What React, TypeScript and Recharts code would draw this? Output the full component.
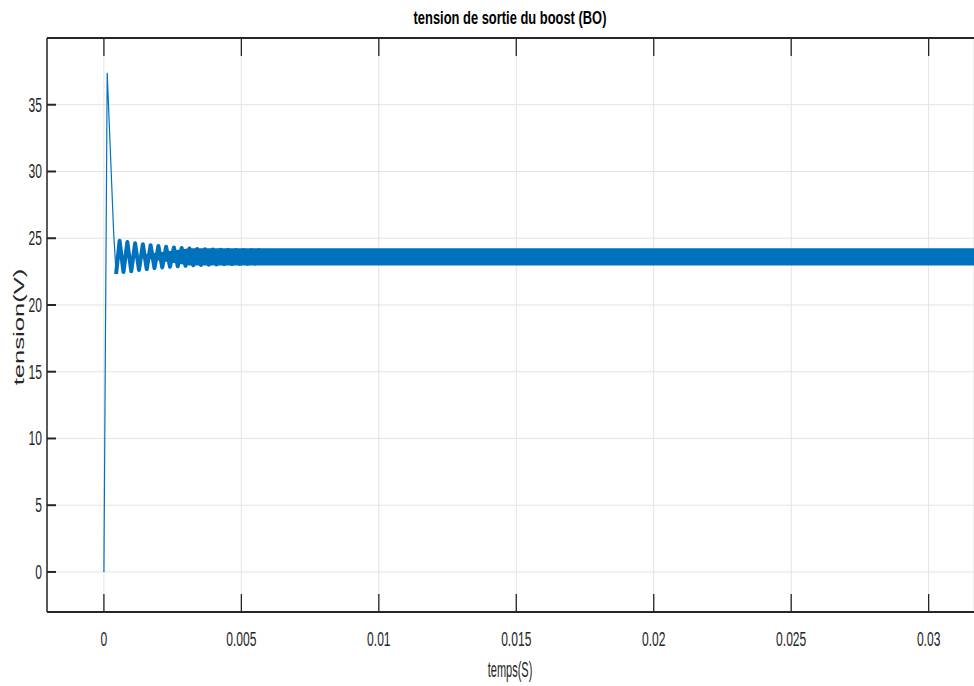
import { ComposedChart, XAxis, YAxis, CartesianGrid, Line, Area, Label, ReferenceLine } from "recharts";

// axes
const xTicks = [0, 0.005, 0.01, 0.015, 0.02, 0.025, 0.03];
const xTickLabels = ["0", "0.005", "0.01", "0.015", "0.02", "0.025", "0.03"];
const yTicks = [0, 5, 10, 15, 20, 25, 30, 35];
const yTickLabels = ["0", "5", "10", "15", "20", "25", "30", "35"];
const yMin = -3;
const yMax = 40;

// startup: rise to overshoot then fall
const startTime = [0, 0.00012, 0.000353, 0.000444];
const startVolt = [0, 37.4, 25.5, 22.32];

// damped oscillation (peaks / troughs)
const oscTime = [
  0.000444, 0.000571, 0.000712, 0.000853, 0.000994, 0.001135, 0.001276, 0.001417, 0.001558,
  0.001699, 0.00184, 0.001981, 0.002122, 0.002263, 0.002404, 0.002546, 0.002687, 0.002828,
  0.002969, 0.00311, 0.003251, 0.003392, 0.003533, 0.003674, 0.003815, 0.003956, 0.004097,
  0.004238, 0.004379, 0.00452, 0.004661, 0.004802, 0.004943, 0.005084, 0.005225, 0.005366,
  0.005507, 0.005648, 0.005789,
];
const oscVolt = [
  22.32, 24.81, 22.47, 24.72, 22.52, 24.62, 22.62, 24.55, 22.69,
  24.48, 22.76, 24.42, 22.81, 24.36, 22.86, 24.31, 22.9, 24.27,
  22.94, 24.23, 22.97, 24.2, 23.0, 24.18, 23.02, 24.16, 23.04,
  24.14, 23.06, 24.13, 23.07, 24.12, 23.08, 24.11, 23.09, 24.1,
  23.1, 24.1, 23.11,
];

// switching ripple envelope (steady state)
const bandTime = [0.0013, 0.00311, 0.03165];
const bandLow = [23.55, 22.96, 22.96];
const bandHigh = [23.75, 24.25, 24.25];

type Row = { t: number; start?: number; osc?: number; band?: [number, number] };
const rows: Row[] = [];
startTime.forEach((t, i) => rows.push({ t, start: startVolt[i] }));
oscTime.forEach((t, i) => rows.push({ t, osc: oscVolt[i] }));
bandTime.forEach((t, i) => rows.push({ t, band: [bandLow[i], bandHigh[i]] }));
rows.sort((a, b) => a.t - b.t);

const INK = "#262626";
const BLUE = "#0072BD";
const FONT = "'Liberation Sans', Arial, Helvetica, sans-serif";
// inward tick length on the top border, in volts (about 18px)
const TOP_TICK = 1.35;

const BottomTick = (props: any) => {
  const { x, y, payload } = props;
  const label = xTickLabels[xTicks.indexOf(payload.value)];
  return (
    <g>
      <line x1={x} x2={x} y1={y} y2={y - 18} stroke={INK} strokeWidth={1.3} />
      <text
        transform={`translate(${x},${y + 34}) scale(0.62,1)`}
        textAnchor="middle"
        fontSize={19.5}
        fontFamily={FONT}
        fill={INK}
      >
        {label}
      </text>
    </g>
  );
};

const LeftTick = (props: any) => {
  const { x, y, payload } = props;
  const label = yTickLabels[yTicks.indexOf(payload.value)];
  return (
    <g>
      <line x1={x} x2={x + 9} y1={y} y2={y} stroke={INK} strokeWidth={2} />
      <text
        transform={`translate(${x - 5},${y + 7}) scale(0.62,1)`}
        textAnchor="end"
        fontSize={19.5}
        fontFamily={FONT}
        fill={INK}
      >
        {label}
      </text>
    </g>
  );
};

export default function App() {
  return (
    <div style={{ position: "absolute", left: 0, top: 0, width: 974, height: 686, background: "#fff" }}>
      <ComposedChart width={974} height={686} data={rows} margin={{ top: 37, right: 0, bottom: 0, left: 0 }}>
        <CartesianGrid xAxisId="bottom" stroke="#e3e3e3" strokeWidth={1} />
        <XAxis
          xAxisId="bottom"
          dataKey="t"
          type="number"
          domain={[-0.00207, 0.03165]}
          allowDataOverflow
          ticks={xTicks}
          interval={0}
          height={74}
          tickSize={0}
          tickMargin={0}
          tickLine={false}
          tick={<BottomTick />}
          axisLine={{ stroke: INK, strokeWidth: 2 }}
        >
          <Label
            content={() => (
              <text
                transform="translate(510,677) scale(0.5,1)"
                textAnchor="middle"
                fontSize={22}
                fontFamily={FONT}
                fill={INK}
              >
                temps(S)
              </text>
            )}
          />
        </XAxis>
        <XAxis
          xAxisId="top"
          orientation="top"
          dataKey="t"
          type="number"
          domain={[-0.00207, 0.03165]}
          allowDataOverflow
          height={1}
          tick={false}
          tickLine={false}
          axisLine={{ stroke: INK, strokeWidth: 2 }}
        >
          <Label
            content={() => (
              <text
                transform="translate(510,24) scale(0.68,1)"
                textAnchor="middle"
                fontSize={19}
                fontWeight="bold"
                fontFamily={FONT}
                fill="#000"
              >
                tension de sortie du boost (BO)
              </text>
            )}
          />
        </XAxis>
        <YAxis
          domain={[yMin, yMax]}
          allowDataOverflow
          ticks={yTicks}
          interval={0}
          width={47}
          tickSize={0}
          tickMargin={0}
          tickLine={false}
          tick={<LeftTick />}
          axisLine={{ stroke: INK, strokeWidth: 1.5 }}
        >
          <Label
            content={() => (
              <text
                transform="translate(24,327) rotate(-90) scale(1.83,1)"
                textAnchor="middle"
                fontSize={14}
                fontFamily={FONT}
                fill={INK}
              >
                tension(V)
              </text>
            )}
          />
        </YAxis>
        {xTicks.map((v) => (
          <ReferenceLine
            key={v}
            xAxisId="bottom"
            segment={[
              { x: v, y: yMax },
              { x: v, y: yMax - TOP_TICK },
            ]}
            stroke={INK}
            strokeWidth={1.3}
            ifOverflow="visible"
          />
        ))}
        <Area
          xAxisId="bottom"
          dataKey="band"
          connectNulls
          stroke="none"
          fill={BLUE}
          fillOpacity={1}
          isAnimationActive={false}
          dot={false}
          activeDot={false}
        />
        <Line
          xAxisId="bottom"
          dataKey="start"
          connectNulls
          stroke={BLUE}
          strokeWidth={1.2}
          dot={false}
          activeDot={false}
          isAnimationActive={false}
        />
        <Line
          xAxisId="bottom"
          dataKey="osc"
          connectNulls
          stroke={BLUE}
          strokeWidth={4}
          strokeLinejoin="round"
          dot={false}
          activeDot={false}
          isAnimationActive={false}
        />
      </ComposedChart>
    </div>
  );
}
